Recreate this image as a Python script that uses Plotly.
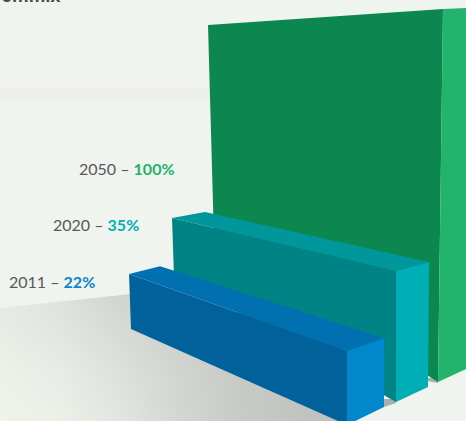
import plotly.graph_objects as go

# Share of renewables in the electricity mix
years = ["2011", "2020", "2050"]
shares = [22, 35, 100]
title_text = "Strommix"

WALL = "#f0f4ee"
TEXT = "#58595b"
label_colors = {"2011": "#0a84cc", "2020": "#00afb5", "2050": "#22b36c"}
face_colors = {
    "2011": {"front": "#00619b", "top": "#0070b0", "side": "#0087cc"},
    "2020": {"front": "#008385", "top": "#00979c", "side": "#00afb5"},
    "2050": {"front": "#0d8750", "top": "#0d8750", "side": "#22b36c"},
}
label_anchor = {"2011": (97, 281), "2020": (141, 224), "2050": (177, 168)}

# Perspective layout of each column: floor point and the rise per percentage
# point at the four corners (front-left, front-right, back-right, back-left).
columns = {
    "2011": {"base": [(131, 329), (347, 425), (384, 407), (162, 318)],
             "rise": [(-0.09, -2.5), (0, -3.36), (0, -3.14), (-0.09, -2.35)]},
    "2020": {"base": [(174, 276), (396, 402), (428, 387), (207, 268)],
             "rise": [(-0.057, -1.66), (0, -3.743), (0.03, -3.57), (-0.057, -1.6)]},
    "2050": {"base": [(214, 240), (438, 382), (466, 369), (240, 232)],
             "rise": [(-0.06, -2.15), (0.05, -3.73), (0, -3.61), (-0.06, -2.15)]},
}

fig = go.Figure()

# Floor shading behind the columns
fig.add_trace(go.Heatmap(
    x=[0, 60, 120, 180, 240, 300, 350, 466],
    y=[290, 330, 375, 421],
    z=[[0.84, 0.68, 0.42, 0.30, 0.22, 0.14, 0.10, 0.10],
       [0.88, 0.76, 0.55, 0.36, 0.22, 0.14, 0.10, 0.10],
       [0.96, 0.88, 0.68, 0.44, 0.24, 0.14, 0.10, 0.10],
       [1.00, 0.94, 0.76, 0.48, 0.26, 0.14, 0.10, 0.10]],
    zmin=0, zmax=1, zsmooth="best", showscale=False, hoverinfo="skip",
    colorscale=[[0, "#b9bcb8"], [1, "#f0f3ec"]],
))


def polygon(xs, ys, color=None, gradient=None):
    trace = dict(x=xs + xs[:1], y=ys + ys[:1], mode="lines", fill="toself",
                 line=dict(width=0), hoverinfo="skip", showlegend=False)
    if gradient:
        trace["fillgradient"] = gradient
    else:
        trace["fillcolor"] = color
    fig.add_trace(go.Scatter(**trace))


# Wall and the lit part of the floor
polygon([0, 466, 466, 347, 300, 131, 0], [0, 0, 421, 421, 400, 294, 308], WALL)

# Pale streak across the wall
polygon([0, 212, 212, 0], [78, 78, 110, 110], gradient=dict(
    type="vertical",
    colorscale=[[0, "rgba(238,238,234,0)"], [0.5, "rgba(236,236,233,0.75)"],
                [1, "rgba(238,240,236,0)"]],
))

# Contact shadows at the column feet
polygon([384, 396, 396, 384], [399, 399, 403, 407], "#a9acb0")
polygon([428, 438, 438, 428], [378, 378, 383, 381], "#a9acb0")


def corners(name, value):
    geo = columns[name]
    floor = geo["base"]
    roof = [(bx + rx * value, by + ry * value)
            for (bx, by), (rx, ry) in zip(geo["base"], geo["rise"])]
    return floor, roof


# Columns from the back to the front, so nearer ones overlap farther ones
for name, value in sorted(zip(years, shares), key=lambda p: -p[1]):
    floor, roof = corners(name, value)
    fl, fr, br, bl = floor
    rfl, rfr, rbr, rbl = roof
    colors = face_colors[name]
    polygon([rfl[0], rfr[0], fr[0], fl[0]], [rfl[1], rfr[1], fr[1], fl[1]], colors["front"])
    polygon([rfr[0], rbr[0], br[0], fr[0]], [rfr[1], rbr[1], br[1], fr[1]], colors["side"])
    if value < 100:
        polygon([rfl[0], rbl[0], rbr[0], rfr[0]], [rfl[1], rbl[1], rbr[1], rfr[1]], colors["top"])

# Year and share labels
annotations = []
for name, value in zip(years, shares):
    ax, ay = label_anchor[name]
    annotations.append(dict(
        x=ax, y=ay, xref="x", yref="y", xanchor="right", yanchor="middle",
        showarrow=False, align="right",
        font=dict(family="Lato", size=16, color=TEXT),
        text=f'{name} – <span style="color:{label_colors[name]}"><b>{value}%</b></span>',
    ))
annotations.append(dict(
    x=63, y=3, xref="x", yref="y", xanchor="right", yanchor="bottom",
    yshift=-6, showarrow=False,
    font=dict(family="Open Sans", size=17, color="#4a4a4a"),
    text=f"<b>{title_text}</b>",
))

fig.update_layout(
    width=466, height=421,
    margin=dict(l=0, r=0, t=0, b=0),
    paper_bgcolor=WALL, plot_bgcolor=WALL,
    showlegend=False,
    annotations=annotations,
    xaxis=dict(range=[0, 466], visible=False, fixedrange=True),
    yaxis=dict(range=[421, 0], visible=False, fixedrange=True),
)

fig.write_html("out.html", config={"displayModeBar": False})
